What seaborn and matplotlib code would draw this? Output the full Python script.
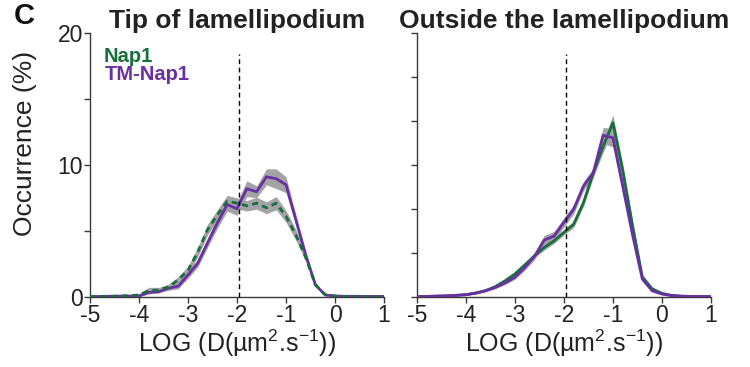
import numpy as np
import pandas as pd
import matplotlib
matplotlib.use("Agg")
import matplotlib.pyplot as plt
import seaborn as sns

# ---------------- data ----------------
log_d = [-5.0, -4.8, -4.6, -4.4, -4.2, -4.0, -3.8, -3.6, -3.4, -3.2, -3.0,
         -2.8, -2.6, -2.4, -2.2, -2.0, -1.8, -1.6, -1.4, -1.2, -1.0,
         -0.8, -0.6, -0.4, -0.2, 0.0, 0.2, 0.4, 0.6, 0.8, 1.0]

tip_nap1 = [0.0, 0.02, 0.03, 0.05, 0.08, 0.13, 0.46, 0.5, 0.74, 1.27, 2.0,
            3.4, 5.1, 6.2, 7.25, 7.1, 6.9, 7.1, 6.75, 7.1, 6.1,
            4.7, 3.0, 0.9, 0.15, 0.05, 0.02, 0.01, 0.0, 0.0, 0.0]
tip_nap1_err = [0.0, 0.01, 0.01, 0.02, 0.03, 0.1, 0.25, 0.2, 0.2, 0.25, 0.3,
                0.35, 0.4, 0.4, 0.45, 0.4, 0.4, 0.45, 0.45, 0.5, 0.45,
                0.4, 0.3, 0.15, 0.05, 0.02, 0.01, 0.0, 0.0, 0.0, 0.0]
tip_tm = [0.0, 0.02, 0.03, 0.04, 0.05, 0.05, 0.33, 0.38, 0.64, 0.8, 1.65,
          2.55, 4.1, 5.6, 7.0, 6.67, 8.2, 7.97, 9.1, 8.96, 8.5,
          5.85, 3.2, 0.9, 0.13, 0.05, 0.03, 0.03, 0.02, 0.02, 0.02]
tip_tm_err = [0.0, 0.01, 0.01, 0.01, 0.02, 0.05, 0.1, 0.1, 0.15, 0.2, 0.25,
              0.3, 0.35, 0.4, 0.5, 0.5, 0.6, 0.45, 0.6, 0.75, 0.6,
              0.4, 0.25, 0.1, 0.05, 0.02, 0.01, 0.01, 0.0, 0.0, 0.0]

out_nap1 = [0.0, 0.02, 0.04, 0.06, 0.1, 0.15, 0.28, 0.45, 0.76, 1.2, 1.72,
            2.4, 3.1, 3.74, 4.24, 4.88, 5.5, 7.15, 9.4, 11.4, 13.2,
            9.6, 5.4, 1.5, 0.6, 0.25, 0.1, 0.04, 0.02, 0.01, 0.01]
out_nap1_err = [0.0, 0.01, 0.01, 0.01, 0.02, 0.03, 0.05, 0.07, 0.1, 0.12, 0.15,
                0.15, 0.15, 0.2, 0.2, 0.2, 0.25, 0.3, 0.35, 0.45, 0.6,
                0.5, 0.35, 0.15, 0.08, 0.04, 0.02, 0.01, 0.0, 0.0, 0.0]
out_tm = [0.0, 0.02, 0.04, 0.06, 0.1, 0.15, 0.26, 0.45, 0.7, 1.04, 1.47,
          2.2, 3.06, 4.3, 4.6, 5.64, 6.64, 8.4, 9.4, 12.25, 12.07,
          8.4, 4.7, 1.34, 0.45, 0.2, 0.08, 0.03, 0.02, 0.01, 0.01]
out_tm_err = [0.0, 0.01, 0.01, 0.01, 0.02, 0.03, 0.05, 0.07, 0.1, 0.12, 0.15,
              0.2, 0.25, 0.35, 0.35, 0.35, 0.35, 0.35, 0.35, 0.6, 0.7,
              0.5, 0.35, 0.15, 0.08, 0.04, 0.02, 0.01, 0.0, 0.0, 0.0]

conditions = ["Nap1", "TM-Nap1"]
panel_titles = ["Tip of lamellipodium", "Outside the lamellipodium"]
xticks = [-5, -4, -3, -2, -1, 0, 1]
threshold = -1.95

# ---------------- style ----------------
sns.set_theme(style="ticks")
plt.rcParams["font.family"] = ["Liberation Sans", "DejaVu Sans"]
plt.rcParams["axes.unicode_minus"] = False
plt.rcParams["mathtext.fontset"] = "custom"
plt.rcParams["mathtext.rm"] = "Liberation Sans"

GREEN = "#17703c"
PURPLE = "#6a2fa3"
BAND = "#a3a3a6"
AXC = "#3a3a3a"
TXT = "#222222"

fig = plt.figure(figsize=(7.5, 3.67), dpi=100)
ax1 = fig.add_axes([0.12, 0.1916, 0.392, 0.7177])
ax2 = fig.add_axes([0.5556, 0.1916, 0.3924, 0.7177])

panels = [
    (ax1, tip_nap1, tip_nap1_err, tip_tm, tip_tm_err),
    (ax2, out_nap1, out_nap1_err, out_tm, out_tm_err),
]

for i, (ax, g, ge, p, pe) in enumerate(panels):
    df = pd.DataFrame({
        "x": log_d * 2,
        "y": g + p,
        "cond": [conditions[0]] * len(log_d) + [conditions[1]] * len(log_d),
    })
    for vals, errs in ((g, ge), (p, pe)):
        lo = np.array(vals) - np.array(errs)
        hi = np.array(vals) + np.array(errs)
        ax.fill_between(log_d, lo, hi, color=BAND, lw=0, zorder=1)
    sns.lineplot(data=df[df.cond == conditions[1]], x="x", y="y", ax=ax,
                 color=PURPLE, lw=2.0, zorder=3, legend=False)
    sns.lineplot(data=df[df.cond == conditions[0]], x="x", y="y", ax=ax,
                 color=GREEN, lw=2.0, zorder=4 if i == 0 else 2, legend=False)
    if i == 0:
        ax.lines[-1].set_dashes([2.2, 1.6])
    ax.vlines(threshold, 0, 18.4, colors="black", linestyles=(0, (3.5, 2.5)),
              lw=1.0, zorder=5)

    ax.set_xlim(-5, 1)
    ax.set_ylim(0, 20)
    ax.set_xticks(xticks)
    ax.set_xticklabels([str(t) for t in xticks])
    ax.set_xlabel(r"LOG (D(µm$\mathregular{^{2}}$.s$\mathregular{^{-1}}$))",
                  fontsize=18, color=TXT, labelpad=1)
    ax.set_title(panel_titles[i], fontsize=19, fontweight="bold",
                 color=TXT, pad=-2)
    for s in ("top", "right"):
        ax.spines[s].set_visible(False)
    for s in ("left", "bottom"):
        ax.spines[s].set_color(AXC)
        ax.spines[s].set_linewidth(1.0)
    ax.tick_params(axis="both", which="both", direction="out", length=4,
                   width=1.0, color=AXC, labelsize=16.5, labelcolor=TXT,
                   pad=1)

ax1.set_yticks([0, 10, 20])
ax1.set_yticks([5, 15], minor=True)
ax1.set_ylabel("Occurrence (%)", fontsize=19, color=TXT)
ax1.yaxis.set_label_coords(-0.18, 0.58)

ax2.set_yticks(np.linspace(0, 20, 7))
ax2.set_yticklabels([])
ax2.set_ylabel("")

ax1.text(0.045, 0.91, conditions[0], transform=ax1.transAxes, color=GREEN,
         fontsize=14.5, fontweight="bold", va="center", ha="left")
ax1.text(0.05, 0.843, conditions[1], transform=ax1.transAxes, color=PURPLE,
         fontsize=14.5, fontweight="bold", va="center", ha="left")

fig.text(0.018, 0.995, "C", fontsize=21, fontweight="bold", va="top",
         ha="left", color="#111111")

fig.savefig("out.png", dpi=100)
